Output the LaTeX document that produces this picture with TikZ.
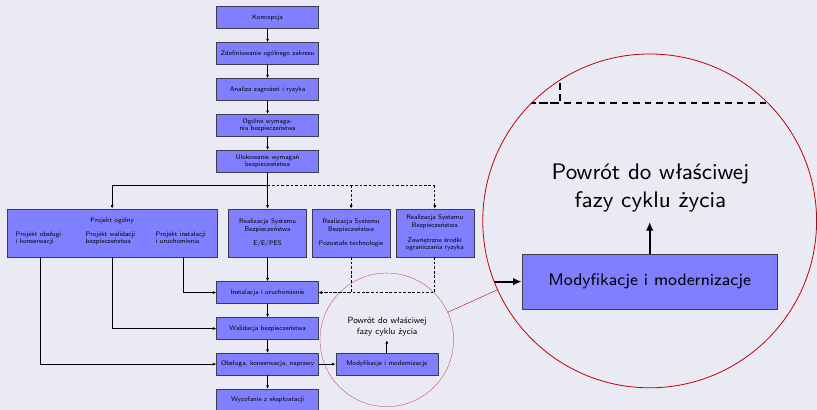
\documentclass[tikz,border=0pt]{standalone}
\usepackage{fontspec}
\usetikzlibrary{spy,arrows.meta}
\definecolor{pagebg}{HTML}{EAEAF4}
\definecolor{boxfill}{HTML}{7F7FFF}
\definecolor{boxline}{HTML}{3C3C4C}
\definecolor{lensred}{HTML}{C0000A}
\begin{document}
\begin{tikzpicture}[x=1pt,y=-1pt,
  font=\sffamily\fontsize{6.7}{7.7}\selectfont,
  stage/.style={draw=boxline, line width=0.4pt, fill=boxfill,
    minimum width=102pt, minimum height=22pt, inner sep=1pt, align=center},
  branchbox/.style={stage, minimum width=78pt, minimum height=48pt},
  plainline/.style={line width=0.8pt},
  link/.style={plainline, -{Latex[length=3.5pt,width=3pt]}},
  dashline/.style={plainline, dash pattern=on 2.7pt off 1.9pt},
  optlink/.style={link, dash pattern=on 2.7pt off 1.9pt},
  subtext/.style={anchor=north west, align=left, inner sep=0pt},
  spy using outlines={circle, draw=lensred, line width=0.5pt,
    magnification=2.5, size=334pt, connect spies}]
\useasboundingbox (0,0) rectangle (817,410);
\fill[pagebg] (0,0) rectangle (817,410);

% main sequence of life-cycle phases
\node[stage] (konc)    at (267.7,17.7)  {Koncepcja};
\node[stage] (zakres)  at (267.7,53.5)  {Zdefiniowanie ogólnego zakresu};
\node[stage] (analiza) at (267.7,89.5)  {Analiza zagrożeń i ryzyka};
\node[stage] (wymag)   at (267.7,125.3) {Ogólne wymaga-\\nia bezpieczeństwa};
\node[stage] (ulok)    at (267.7,161.3) {Ulokowanie wymagań\\bezpieczeństwa};

% planning and realisation row
\node[branchbox, minimum width=210pt] (ogolny) at (112.2,233) {};
\node[inner sep=0pt] (ogolnyt) at (112.2,221) {Projekt ogólny};
\node[subtext] (pobs)  at (15.7,231.5)  {Projekt obsługi\\i konserwacji};
\node[subtext] (pwal)  at (85.7,231.5)  {Projekt walidacji\\bezpieczeństwa};
\node[subtext] (pinst) at (155.7,231.5) {Projekt instalacji\\i uruchomienia};
\node[branchbox] (ee)   at (267.7,233) {Realizacja Systemu\\Bezpieczeństwa\\[6.5pt]E/E/PES};
\node[branchbox] (inne) at (351.3,233) {Realizacja Systemu\\Bezpieczeństwa\\[6.5pt]Pozostałe technologie};
\node[branchbox] (zewn) at (435,233)   {Realizacja Systemu\\Bezpieczeństwa\\[7.5pt]Zewnętrzne środki\\ograniczania ryzyka};

% later phases
\node[stage] (inst)  at (267.7,292.7) {Instalacja i uruchomienie};
\node[stage] (walid) at (267.7,328.7) {Walidacja bezpieczeństwa};
\node[stage] (obsl)  at (267.7,364.3) {Obsługa, konserwacja, naprawy};
\node[stage] (wycof) at (267.7,400.3) {Wycofanie z eksploatacji};
\node[stage] (modyf) at (387,364.3)   {Modyfikacje i modernizacje};
\node[align=center, inner sep=0pt, anchor=south,
  font=\sffamily\fontsize{9}{11.2}\selectfont] (powrot) at (387.3,336.7)
  {Powrót do właściwej\\fazy cyklu życia};

% connector end points
\coordinate (split) at (267.7,185);
\coordinate (dobs)  at (40.3,257);
\coordinate (dwal)  at (112.3,257);
\coordinate (dinst) at (183.7,257);

% connectors
\draw[link] (konc) -- (zakres);
\draw[link] (zakres) -- (analiza);
\draw[link] (analiza) -- (wymag);
\draw[link] (wymag) -- (ulok);
\draw[plainline] (ulok.south) -- (split);
\draw[link] (split) -- (ee);
\draw[link] (split) -| (ogolny.north);
\draw[dashline] (split) -- (split -| zewn.north);
\draw[optlink] (split -| inne.north) -- (inne.north);
\draw[optlink] (split -| zewn.north) -- (zewn.north);
\draw[link] (ee) -- (inst);
\draw[optlink] (inne.south) |- (inst.east);
\draw[optlink] (zewn.south) |- (inst.east);
\draw[link] (dinst) |- (inst.west);
\draw[link] (dwal) |- (walid.west);
\draw[link] (dobs) |- (obsl.west);
\draw[link] (inst) -- (walid);
\draw[link] (walid) -- (obsl);
\draw[link] (obsl) -- (wycof);
\draw[link] (obsl) -- (modyf);
\draw[link, shorten >=3.7pt] (modyf.north) -- (modyf.north |- powrot.south);

% magnified view of the modification loop
\spy on (387,340) in node at (650,221);
\end{tikzpicture}
\end{document}
